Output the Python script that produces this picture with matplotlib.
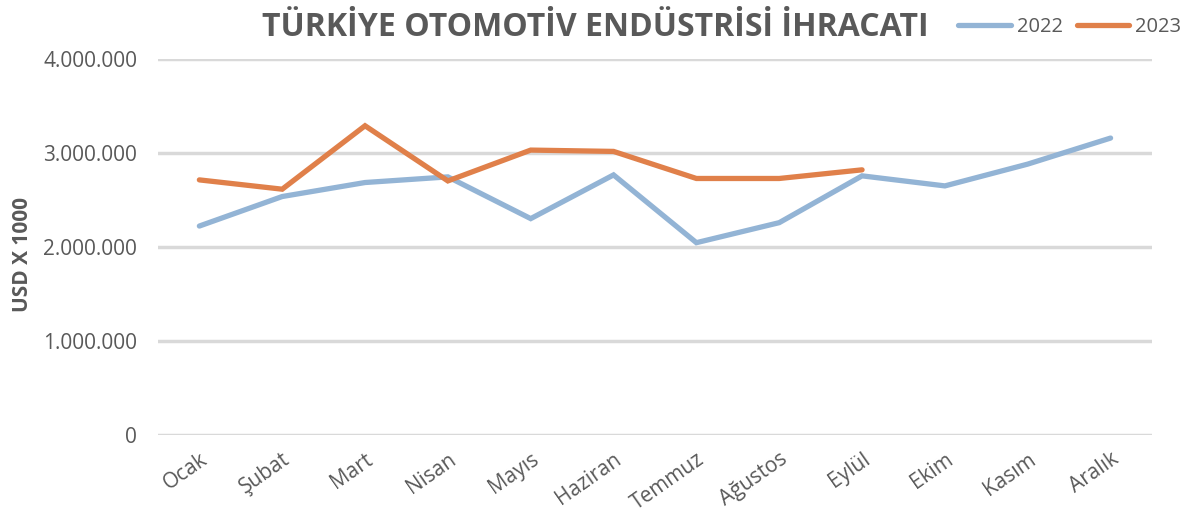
import matplotlib.pyplot as plt
from matplotlib.ticker import FuncFormatter
from matplotlib import font_manager

months = ["Ocak", "Şubat", "Mart", "Nisan", "Mayıs", "Haziran",
          "Temmuz", "Ağustos", "Eylül", "Ekim", "Kasım", "Aralık"]
exports_2022 = [2223000, 2537000, 2686000, 2746000, 2302000, 2767000,
                2046000, 2259000, 2757000, 2650000, 2882000, 3159000]
exports_2023 = [2714000, 2615000, 3290000, 2703000, 3031000, 3017000,
                2729000, 2729000, 2821000]
yticks = [0, 1000000, 2000000, 3000000, 4000000]

gray = "#595959"
names = {f.name for f in font_manager.fontManager.ttflist}
title_font = "Liberation Sans Narrow" if "Liberation Sans Narrow" in names else "Open Sans"

plt.rcParams["font.family"] = ["Open Sans", "DejaVu Sans"]

fig = plt.figure(figsize=(12.03, 5.2), dpi=100)
ax = fig.add_axes([0.1313, 0.1635, 0.8263, 0.723])

ax.plot(range(len(exports_2022)), exports_2022, color="#93b4d5", lw=3.8,
        solid_capstyle="round", solid_joinstyle="miter", label="2022", zorder=3)
ax.plot(range(len(exports_2023)), exports_2023, color="#e0804a", lw=3.8,
        solid_capstyle="round", solid_joinstyle="miter", label="2023", zorder=4)

ax.set_xlim(-0.5, len(months) - 0.5)
ax.set_ylim(0, 4000000)
ax.set_yticks(yticks)
ax.yaxis.set_major_formatter(FuncFormatter(lambda v, p: f"{int(v):,}".replace(",", ".")))
ax.set_xticks(range(len(months)))
ax.set_xticklabels(months, rotation=35, ha="right", rotation_mode="anchor")
ax.tick_params(axis="both", length=0, colors=gray, labelsize=15)
ax.tick_params(axis="y", pad=15)
ax.tick_params(axis="x", pad=10)

for s in ax.spines.values():
    s.set_visible(False)
ax.grid(axis="y", color="#d9d9d9", lw=2.5, zorder=0)
ax.set_axisbelow(True)

ax.set_ylabel("USD X 1000", fontsize=15, fontweight="bold", color=gray)
ax.yaxis.set_label_coords(-0.126, 0.48)

fig.text(0.495, 0.948, "TÜRKİYE OTOMOTİV ENDÜSTRİSİ İHRACATI", ha="center", va="center",
         fontsize=23, fontweight="bold", color=gray, family=[title_font, "DejaVu Sans"])

leg = fig.legend(loc="center right", bbox_to_anchor=(0.997, 0.948), ncol=2, frameon=False,
                 fontsize=14.5, handlelength=2.6, handletextpad=0.3, columnspacing=0.7,
                 labelcolor=gray)

fig.savefig("out.png", dpi=100)
